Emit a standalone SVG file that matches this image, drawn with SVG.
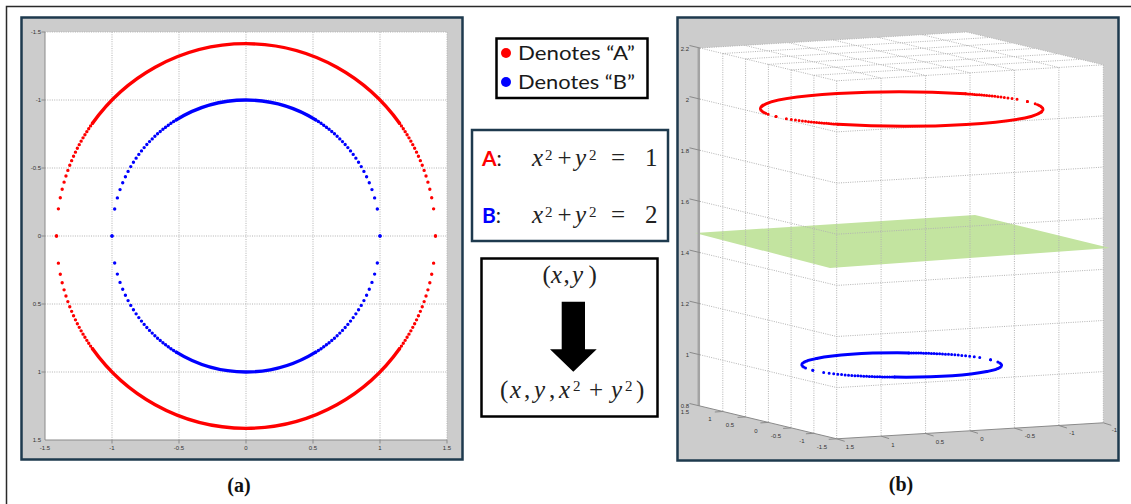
<svg xmlns="http://www.w3.org/2000/svg" xmlns:xlink="http://www.w3.org/1999/xlink" width="1131" height="504" viewBox="0 0 1131 504">
<style>
.grid{fill:none;stroke:#b2b2b2;stroke-width:1;stroke-dasharray:1 1.3}
.tk{font-family:"Liberation Sans",Arial,sans-serif;font-size:6px;fill:#333}
.tkr{font-family:"Liberation Sans",Arial,sans-serif;font-size:6px;fill:#333;text-anchor:end}
.tkm{font-family:"Liberation Sans",Arial,sans-serif;font-size:6px;fill:#333;text-anchor:middle}
.ax{fill:none;stroke:#8a8a8a;stroke-width:1}
.panel{fill:#cccccc}
.pborder{fill:none;stroke:#1e3a4e;stroke-width:2.5}
.box{fill:#fff;stroke:#000;stroke-width:2.5}
.leg{font-family:Lato,"Liberation Sans",sans-serif;font-size:20px;fill:#1a1a1a}
.math{font-family:"Liberation Serif","Times New Roman",serif;font-size:25px;fill:#222}
.it{font-style:italic}
.cap{font-family:"Liberation Serif","Times New Roman",serif;font-size:20px;font-weight:bold;fill:#111;text-anchor:middle}
</style>
<defs>
<path id="rq" fill="none" stroke-linecap="round" vector-effect="non-scaling-stroke" d="M1.4142 0h0M1.4001 .1995h0M1.3859 .2814h0M1.3718 .3438h0M1.3576 .396h0M1.3435 .4416h0M1.3294 .4825h0M1.3152 .5198h0M1.3011 .5542h0M1.2869 .5863h0M1.2728 .6164h0M1.2586 .6449h0M1.2445 .6717h0M1.2304 .6973h0M1.2162 .7217h0M1.2021 .745h0M1.1879 .7673h0M1.1738 .7888h0M1.1597 .8095h0M1.1455 .8293h0"/>
<g id="redSet">
<use href="#rq"/>
<use href="#rq" transform="scale(-1,1)"/>
<use href="#rq" transform="scale(1,-1)"/>
<use href="#rq" transform="scale(-1,-1)"/>
<path fill="none" stroke-linecap="round" vector-effect="non-scaling-stroke" d="M1.1455 .8293A1.4142 1.4142 0 0 1 -1.1455 .8293M-1.1455 -.8293A1.4142 1.4142 0 0 1 1.1455 -.8293"/>
</g>
<path id="bq" fill="none" stroke-linecap="round" vector-effect="non-scaling-stroke" d="M1 0h0M.98 .199h0M.96 .28h0M.94 .3412h0M.92 .392h0M.9 .4359h0M.88 .475h0M.86 .5103h0M.84 .5426h0M.82 .5724h0M.8 .6h0M.78 .6258h0M.76 .65h0M.74 .6726h0M.72 .694h0M.7 .7141h0M.68 .7332h0M.66 .7513h0M.64 .7684h0M.62 .7846h0M.6 .8h0M.58 .8146h0M.56 .8285h0M.54 .8417h0M.52 .8542h0"/>
<g id="blueSet">
<use href="#bq"/>
<use href="#bq" transform="scale(-1,1)"/>
<use href="#bq" transform="scale(1,-1)"/>
<use href="#bq" transform="scale(-1,-1)"/>
<path fill="none" stroke-linecap="round" vector-effect="non-scaling-stroke" d="M.52 .8542A1 1 0 0 1 -.52 .8542M-.52 -.8542A1 1 0 0 1 .52 -.8542"/>
</g>
<clipPath id="clipB"><rect x="678.75" y="18.75" width="438.5" height="440.5"/></clipPath>
</defs>

<rect x="0" y="0" width="1131" height="504" fill="#fff"/>
<rect x="6.5" y="6.5" width="1130" height="510" fill="none" stroke="#2a2a2a" stroke-width="1.5"/>

<g id="plot-a">
<rect class="panel" x="21.5" y="17.5" width="441" height="442"/>
<rect x="45" y="32" width="402" height="408" fill="#fff"/>
<path class="grid" d="M112 32V440M179 32V440M246 32V440M313 32V440M380 32V440M447 32V440M45 32H447M45 100H447M45 168H447M45 236H447M45 304H447M45 372H447"/>
<path class="ax" d="M45 32V440H447M41.5 32H45M41.5 100H45M41.5 168H45M41.5 236H45M41.5 304H45M41.5 372H45M112 440V443.5M179 440V443.5M246 440V443.5M313 440V443.5M380 440V443.5M447 440V443.5"/>
<text class="tkr" x="41" y="34">-1.5</text>
<text class="tkr" x="41" y="102">-1</text>
<text class="tkr" x="41" y="170">-0.5</text>
<text class="tkr" x="41" y="238">0</text>
<text class="tkr" x="41" y="306">0.5</text>
<text class="tkr" x="41" y="374">1</text>
<text class="tkr" x="41" y="442">1.5</text>
<text class="tkm" x="45" y="449.5">-1.5</text>
<text class="tkm" x="112" y="449.5">-1</text>
<text class="tkm" x="179" y="449.5">-0.5</text>
<text class="tkm" x="246" y="449.5">0</text>
<text class="tkm" x="313" y="449.5">0.5</text>
<text class="tkm" x="380" y="449.5">1</text>
<text class="tkm" x="447" y="449.5">1.5</text>
<use href="#redSet" transform="matrix(134 0 0 136 246 236)" stroke="#ff0000" stroke-width="3.4"/>
<use href="#blueSet" transform="matrix(134 0 0 136 246 236)" stroke="#0000ff" stroke-width="3.4"/>
<rect class="pborder" x="21.5" y="17.5" width="441" height="442"/>
</g>

<g id="legend">
<rect class="box" x="496.5" y="38.5" width="151" height="59.5"/>
<circle cx="506" cy="53" r="5" fill="#ff0000"/>
<text class="leg" x="518" y="60" textLength="117" lengthAdjust="spacingAndGlyphs">Denotes “A”</text>
<circle cx="506" cy="82" r="5" fill="#0000ff"/>
<text class="leg" x="518" y="88.5" textLength="117" lengthAdjust="spacingAndGlyphs">Denotes “B”</text>
</g>

<g id="equations">
<rect x="472" y="130" width="196" height="111" fill="#fff" stroke="#1e3a4e" stroke-width="2.5"/>
<text x="482" y="166" font-family="Lato,'Liberation Sans',sans-serif" font-size="21"><tspan font-weight="bold" fill="#ff0000">A</tspan><tspan fill="#222">:</tspan></text>
<text class="math" y="166"><tspan class="it" x="532">x</tspan><tspan x="545" y="160" font-size="15">2</tspan><tspan x="557.5" y="166">+</tspan><tspan class="it" x="575">y</tspan><tspan x="589" y="160" font-size="15">2</tspan><tspan x="611" y="166">=</tspan><tspan x="645">1</tspan></text>
<text x="482" y="223" font-family="Lato,'Liberation Sans',sans-serif" font-size="21"><tspan font-weight="bold" fill="#0000ff">B</tspan><tspan fill="#222">:</tspan></text>
<text class="math" y="223"><tspan class="it" x="532">x</tspan><tspan x="545" y="217" font-size="15">2</tspan><tspan x="557.5" y="223">+</tspan><tspan class="it" x="575">y</tspan><tspan x="589" y="217" font-size="15">2</tspan><tspan x="611" y="223">=</tspan><tspan x="645">2</tspan></text>
</g>

<g id="mapping">
<rect class="box" x="481.5" y="258.5" width="176" height="158"/>
<text class="math" y="283"><tspan x="542.5">(</tspan><tspan class="it" x="551">x</tspan><tspan x="563.5">,</tspan><tspan class="it" x="572">y</tspan><tspan x="588.5">)</tspan></text>
<path d="M561.7 301.7H585V349.3H596.7L573.3 371.7L550 349.3H561.7Z" fill="#000"/>
<text class="math" y="398"><tspan x="500">(</tspan><tspan class="it" x="510">x</tspan><tspan x="524">,</tspan><tspan class="it" x="534">y</tspan><tspan x="549">,</tspan><tspan class="it" x="559">x</tspan><tspan x="573" y="391" font-size="15">2</tspan><tspan x="589" y="398">+</tspan><tspan class="it" x="611">y</tspan><tspan x="625" y="391" font-size="15">2</tspan><tspan x="636" y="398">)</tspan></text>
</g>

<g id="plot-b">
<rect class="panel" x="677.5" y="17.5" width="441" height="443"/>
<g clip-path="url(#clipB)">
<polygon points="700,48 966.6,32 1103.3,64.8 1103.3,422.8 836.7,438.8 700,406" fill="#fff"/>
<polygon points="695,233 975,215 1110,248 830,268" fill="#c3e4a0"/>
<path class="grid" d="M722.8 53.5V411.5M745.6 58.9V416.9M768.4 64.4V422.4M791.1 69.9V427.9M813.9 75.3V433.3M836.7 80.8V438.8M881.1 78.1V436.1M925.6 75.5V433.5M970 72.8V430.8M1014.4 70.1V428.1M1058.9 67.5V425.5M1103.3 64.8V422.8M700 48L836.7 80.8L1103.3 64.8M700 99.1L836.7 131.9L1103.3 115.9M700 150.3L836.7 183.1L1103.3 167.1M700 201.4L836.7 234.2L1103.3 218.2M700 252.6L836.7 285.4L1103.3 269.4M700 303.7L836.7 336.5L1103.3 320.5M700 354.8L836.7 387.6L1103.3 371.6M744.4 45.3L881.1 78.1M788.9 42.7L925.6 75.5M833.3 40L970 72.8M877.7 37.3L1014.4 70.1M922.2 34.7L1058.9 67.5M966.6 32L1103.3 64.8M700 48L966.6 32M722.8 53.5L989.4 37.5M745.6 58.9L1012.2 42.9M768.4 64.4L1035 48.4M791.1 69.9L1057.7 53.9M813.9 75.3L1080.5 59.3"/>
<path d="M698.8 48V406" stroke="#a3a3a3" stroke-width="2.5" fill="none"/>
<path class="ax" d="M700 406L836.7 438.8L1103.3 422.8M689.5 45.5L700 48M689.5 96.6L700 99.1M689.5 147.8L700 150.3M689.5 198.9L700 201.4M689.5 250.1L700 252.6M689.5 301.2L700 303.7M689.5 352.3L700 354.8M689.5 403.5L700 406M722.8 411.5l-8 .5M745.6 416.9l-8 .5M768.4 422.4l-8 .5M791.1 427.9l-8 .5M813.9 433.3l-8 .5M836.7 438.8l-8 .5M836.7 438.8l8 2.5M881.1 436.1l8 2.5M925.6 433.5l8 2.5M970 430.8l8 2.5M1014.4 428.1l8 2.5M1058.9 425.5l8 2.5M1103.3 422.8l8 2.5"/>
<text class="tkr" x="689" y="50.5">2.2</text>
<text class="tkr" x="689" y="101.5">2</text>
<text class="tkr" x="689" y="152.5">1.8</text>
<text class="tkr" x="689" y="203.5">1.6</text>
<text class="tkr" x="689" y="255">1.4</text>
<text class="tkr" x="689" y="306">1.2</text>
<text class="tkr" x="689" y="357">1</text>
<text class="tkr" x="689" y="408">0.8</text>
<text class="tkm" x="685" y="414">1.5</text>
<text class="tkm" x="710" y="421">1</text>
<text class="tkm" x="730" y="427">0.5</text>
<text class="tkm" x="756" y="433">0</text>
<text class="tkm" x="776" y="438">-0.5</text>
<text class="tkm" x="802" y="443">-1</text>
<text class="tkm" x="822" y="449">-1.5</text>
<text class="tkm" x="850" y="449">1.5</text>
<text class="tkm" x="893" y="447">1</text>
<text class="tkm" x="940" y="444">0.5</text>
<text class="tkm" x="982" y="441">0</text>
<text class="tkm" x="1030" y="438">-0.5</text>
<text class="tkm" x="1072" y="435">-1</text>
<text class="tkm" x="1117" y="432">-1.5</text>
<use href="#redSet" transform="matrix(-88.87 5.33 -45.57 -10.93 901.7 109)" stroke="#ff0000" stroke-width="3"/>
<use href="#blueSet" transform="matrix(-88.87 5.33 -45.57 -10.93 901.7 365)" stroke="#0000ff" stroke-width="3"/>
</g>
<rect class="pborder" x="677.5" y="17.5" width="441" height="443"/>
</g>

<g id="captions">
<text class="cap" x="239" y="492">(a)</text>
<text class="cap" x="901" y="491">(b)</text>
</g>
</svg>
